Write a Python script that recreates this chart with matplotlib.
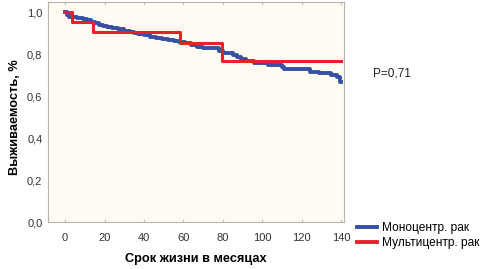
import matplotlib
matplotlib.use("Agg")
import matplotlib.pyplot as plt

# Data
mono_t = [0, 1, 2, 6, 9, 11, 13, 15, 17, 19, 21, 24, 27, 30, 33, 35, 37, 40, 43, 46, 49, 52, 55, 58,
          61, 64, 67, 70, 78, 80, 85, 87, 89, 92, 96, 103, 110, 111, 124, 129, 135, 138, 139.5, 140]
mono_s = [1.0, 0.985, 0.975, 0.97, 0.965, 0.96, 0.953, 0.946, 0.94, 0.934, 0.929, 0.924, 0.918, 0.912,
          0.907, 0.9, 0.894, 0.889, 0.883, 0.877, 0.872, 0.867, 0.862, 0.857, 0.851, 0.843, 0.835, 0.827,
          0.815, 0.803, 0.795, 0.785, 0.775, 0.765, 0.758, 0.748, 0.738, 0.727, 0.716, 0.708, 0.70, 0.69,
          0.668, 0.668]
multi_t = [0, 3.5, 14, 58.5, 79.5, 140]
multi_s = [1.0, 0.954, 0.903, 0.851, 0.767, 0.767]

series_labels = ["Моноцентр. рак", "Мультицентр. рак"]
x_ticks = [0, 20, 40, 60, 80, 100, 120, 140]
y_ticks = [0.0, 0.2, 0.4, 0.6, 0.8, 1.0]
y_tick_labels = ["0,0", "0,2", "0,4", "0,6", "0,8", "1,0"]
p_text = "P=0,71"

plt.rcParams['font.family'] = ['Liberation Sans', 'DejaVu Sans']

fig = plt.figure(figsize=(4.87, 2.69), dpi=100)
ax = fig.add_axes([48/487, 1-222/269, (344-48)/487, (222-2)/269])
ax.set_facecolor('#FFFBF3')

ax.step(mono_t, mono_s, where='post', color='#3550A5', lw=2.8, label=series_labels[0], zorder=2)
ax.step(multi_t, multi_s, where='post', color='#E8202A', lw=2.2, label=series_labels[1], zorder=3)

ax.set_xlim(-8.7, 141.5)
ax.set_ylim(0, 1.048)
ax.set_xticks(x_ticks)
ax.set_yticks(y_ticks)
ax.set_yticklabels(y_tick_labels)
ax.tick_params(direction='in', length=2, color='#C8C0B0', labelsize=8, labelcolor='#333333',
               top=True, right=True, pad=8)
ax.tick_params(axis='y', length=0, pad=4)
for s in ax.spines.values():
    s.set_color('#BDB5A8')
    s.set_linewidth(0.8)

ax.set_xlabel("Срок жизни в месяцах", fontsize=9.2, fontweight='bold', labelpad=7)
ax.set_ylabel("Выживаемость, %", fontsize=9.2, fontweight='bold')
ylab = ax.yaxis.label
ylab.set_ha('center')
ylab.set_va('center')
ax.yaxis.set_label_coords(15/487, 1-117/269, transform=fig.transFigure)

fig.text(373/487, 1-73/269, p_text, fontsize=8.5, ha='left', va='center', color='#222222')

leg = fig.legend(loc='upper left', bbox_to_anchor=(357/487, 1-222/269), frameon=False,
                 fontsize=8.6, handlelength=1.7, handletextpad=0.42, labelspacing=0.25,
                 borderpad=0, borderaxespad=0)
for line in leg.get_lines():
    line.set_linewidth(2.8)

fig.savefig("out.png", dpi=100)
